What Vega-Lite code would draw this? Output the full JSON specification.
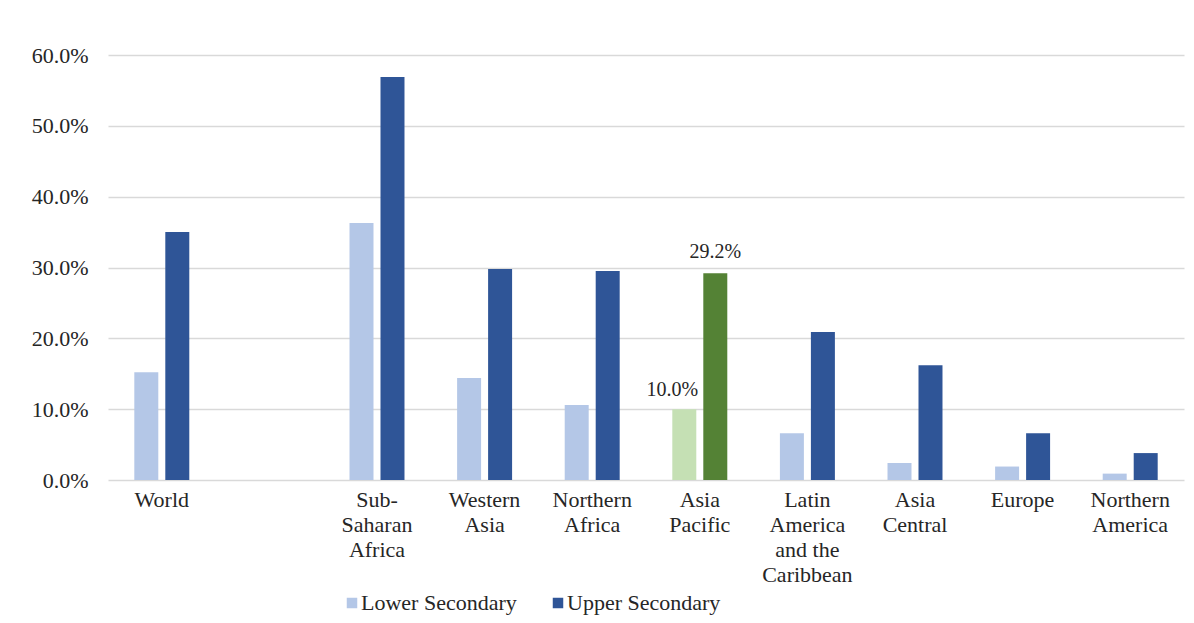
{
  "$schema": "https://vega.github.io/schema/vega-lite/v6.json",
  "width": 1076,
  "height": 425,
  "autosize": {"type": "none"},
  "padding": {"left": 108, "top": 55, "right": 10, "bottom": 143},
  "background": "white",
  "config": {
    "view": {"stroke": null},
    "font": "Liberation Serif"
  },
  "data": {
    "values": [
      {"region": "World", "level": "Lower Secondary", "value": 0.152},
      {"region": "World", "level": "Upper Secondary", "value": 0.350},
      {"region": "Sub-Saharan Africa", "level": "Lower Secondary", "value": 0.363},
      {"region": "Sub-Saharan Africa", "level": "Upper Secondary", "value": 0.569},
      {"region": "Western Asia", "level": "Lower Secondary", "value": 0.144},
      {"region": "Western Asia", "level": "Upper Secondary", "value": 0.298},
      {"region": "Northern Africa", "level": "Lower Secondary", "value": 0.106},
      {"region": "Northern Africa", "level": "Upper Secondary", "value": 0.295},
      {"region": "Asia Pacific", "level": "Lower Secondary", "value": 0.100},
      {"region": "Asia Pacific", "level": "Upper Secondary", "value": 0.292},
      {"region": "Latin America and the Caribbean", "level": "Lower Secondary", "value": 0.066},
      {"region": "Latin America and the Caribbean", "level": "Upper Secondary", "value": 0.209},
      {"region": "Asia Central", "level": "Lower Secondary", "value": 0.024},
      {"region": "Asia Central", "level": "Upper Secondary", "value": 0.162},
      {"region": "Europe", "level": "Lower Secondary", "value": 0.019},
      {"region": "Europe", "level": "Upper Secondary", "value": 0.066},
      {"region": "Northern America", "level": "Lower Secondary", "value": 0.009},
      {"region": "Northern America", "level": "Upper Secondary", "value": 0.038}
    ]
  },
  "encoding": {
    "x": {
      "field": "region",
      "type": "nominal",
      "sort": null,
      "scale": {
        "domain": ["World", " ", "Sub-Saharan Africa", "Western Asia", "Northern Africa", "Asia Pacific", "Latin America and the Caribbean", "Asia Central", "Europe", "Northern America"],
        "paddingInner": 0.489,
        "paddingOuter": 0.2445
      },
      "axis": {
        "title": null,
        "labelAngle": 0,
        "labelFont": "Liberation Serif",
        "labelFontSize": 22,
        "labelColor": "#262626",
        "labelBaseline": "top",
        "labelLineHeight": 25,
        "labelPadding": 9,
        "labelLimit": 200,
        "ticks": false,
        "domain": false,
        "labelExpr": "datum.value == 'Sub-Saharan Africa' ? ['Sub-','Saharan','Africa'] : datum.value == 'Latin America and the Caribbean' ? ['Latin','America','and the','Caribbean'] : split(datum.value, ' ')"
      }
    },
    "xOffset": {
      "field": "level",
      "type": "nominal",
      "scale": {"paddingInner": 0.226, "paddingOuter": 0}
    },
    "y": {
      "field": "value",
      "type": "quantitative",
      "scale": {"domain": [0, 0.6]},
      "axis": {
        "title": null,
        "format": ".1%",
        "values": [0, 0.1, 0.2, 0.3, 0.4, 0.5, 0.6],
        "labelFont": "Liberation Serif",
        "labelFontSize": 22,
        "labelColor": "#262626",
        "labelPadding": 20,
        "ticks": false,
        "domain": false,
        "grid": true,
        "gridColor": "#d9d9d9",
        "gridWidth": 1.5
      }
    }
  },
  "layer": [
    {
      "mark": {"type": "bar"},
      "encoding": {
        "color": {
          "condition": [
            {"test": "datum.region === 'Asia Pacific' && datum.level === 'Lower Secondary'", "value": "#c5e0b4"},
            {"test": "datum.region === 'Asia Pacific' && datum.level === 'Upper Secondary'", "value": "#548235"}
          ],
          "field": "level",
          "type": "nominal",
          "scale": {"domain": ["Lower Secondary", "Upper Secondary"], "range": ["#b4c7e7", "#2f5597"]},
          "legend": {
            "title": null,
            "orient": "none",
            "direction": "horizontal",
            "legendX": 233,
            "legendY": 537,
            "symbolType": "square",
            "symbolSize": 110,
            "symbolStrokeWidth": 0,
            "labelFont": "Liberation Serif",
            "labelFontSize": 22,
            "labelColor": "#262626",
            "labelOffset": -2,
            "columnPadding": 30,
            "labelLimit": 300
          }
        }
      }
    },
    {
      "transform": [{"filter": "datum.region === 'Asia Pacific' && datum.level === 'Lower Secondary'"}],
      "mark": {"type": "text", "font": "Liberation Serif", "baseline": "alphabetic", "dy": -13, "dx": -12, "fontSize": 20, "color": "#262626"},
      "encoding": {
        "text": {"field": "value", "type": "quantitative", "format": ".1%"}
      }
    },
    {
      "transform": [{"filter": "datum.region === 'Asia Pacific' && datum.level === 'Upper Secondary'"}],
      "mark": {"type": "text", "font": "Liberation Serif", "baseline": "alphabetic", "dy": -15, "fontSize": 20, "color": "#262626"},
      "encoding": {
        "text": {"field": "value", "type": "quantitative", "format": ".1%"}
      }
    }
  ]
}
